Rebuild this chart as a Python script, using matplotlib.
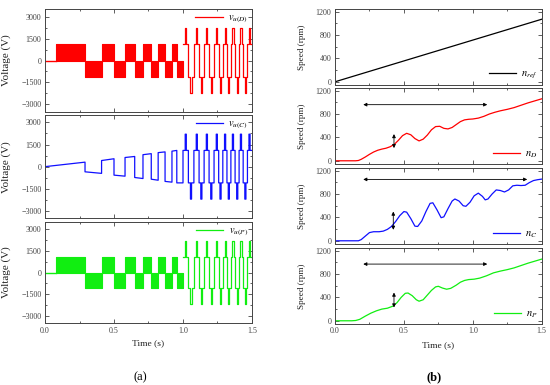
import numpy as np
import matplotlib
matplotlib.use("Agg")
import matplotlib.pyplot as plt
from matplotlib.ticker import MultipleLocator

plt.rcParams['font.family'] = ['Liberation Serif', 'DejaVu Serif']
plt.rcParams['mathtext.fontset'] = 'stix'

# ---------------- data: voltages (left) ----------------
# PWM blocks (rapid switching between 0 and +/-1100 V) for v_u(D) and v_u(P)
block_edges = [0.08, 0.29, 0.41, 0.50, 0.58, 0.65, 0.71, 0.77, 0.82, 0.87, 0.92, 0.955, 1.00]
block_signs = [1, -1, 1, -1, 1, -1, 1, -1, 1, -1, 1, -1]
level1 = 1100
level2 = 2200

# v_u(C): square wave with ramping amplitude before 1.0 s
c_edges = [0.0, 0.29, 0.41, 0.50, 0.58, 0.65, 0.71, 0.77, 0.82, 0.87, 0.92, 0.955, 1.00]
c_start = [0, -350, 415, -575, 620, -735, 810, -850, 950, -1000, 1050, -1100]
c_end = [305, -455, 535, -645, 690, -805, 880, -920, 1000, -1050, 1100, -1100]

# multilevel region after 1.0 s: spike centres and signs
spike_t = [1.02, 1.058, 1.10, 1.133, 1.173, 1.205, 1.245, 1.272, 1.305, 1.332, 1.362, 1.393, 1.42, 1.452, 1.482]
spike_s = [1, -1, 1, -1, 1, -1, 1, -1, 1, -1, 1, -1, 1, -1, 1]
spike_halfwidth = 0.004

# ---------------- data: speeds (right) ----------------
ref_t = [0.0, 1.5]
ref_n = [0, 1070]

nD_t = [0, 0.15, 0.17, 0.19, 0.22, 0.25, 0.28, 0.31, 0.34, 0.37, 0.40, 0.43, 0.46, 0.49, 0.52, 0.55, 0.58,
        0.61, 0.64, 0.67, 0.70, 0.73, 0.76, 0.79, 0.82, 0.85, 0.88, 0.91, 0.94, 0.97, 1.00, 1.04, 1.08,
        1.12, 1.16, 1.20, 1.25, 1.30, 1.35, 1.40, 1.45, 1.50]
nD_n = [0, 0, 5, 25, 65, 110, 150, 180, 200, 215, 240, 280, 350, 430, 470, 445, 380,
        340, 370, 440, 530, 585, 590, 555, 545, 570, 620, 670, 700, 710, 715, 730, 760,
        800, 830, 855, 880, 910, 950, 990, 1025, 1060]

nC_t = [0, 0.17, 0.19, 0.22, 0.25, 0.28, 0.32, 0.35, 0.38, 0.41, 0.44, 0.47, 0.50, 0.52, 0.55, 0.58, 0.60,
        0.63, 0.66, 0.69, 0.71, 0.74, 0.77, 0.79, 0.82, 0.85, 0.87, 0.90, 0.93, 0.95, 0.98, 1.01, 1.04,
        1.07, 1.09, 1.11, 1.14, 1.17, 1.20, 1.23, 1.26, 1.29, 1.32, 1.35, 1.38, 1.41, 1.44, 1.47, 1.50]
nC_n = [0, 0, 20, 80, 140, 155, 155, 165, 195, 245, 330, 430, 500, 490, 380, 250, 245,
        340, 500, 640, 650, 530, 395, 410, 550, 680, 715, 680, 600, 590, 660, 770, 815,
        760, 700, 715, 800, 870, 860, 835, 870, 940, 950, 945, 950, 995, 1030, 1045, 1055]

nP_t = [0, 0.12, 0.15, 0.18, 0.22, 0.26, 0.30, 0.34, 0.38, 0.42, 0.45, 0.48, 0.51, 0.53, 0.56, 0.59, 0.61,
        0.64, 0.67, 0.70, 0.73, 0.75, 0.78, 0.81, 0.84, 0.88, 0.91, 0.94, 0.97, 1.01, 1.05, 1.10, 1.15,
        1.20, 1.25, 1.30, 1.35, 1.40, 1.45, 1.50]
nP_n = [0, 0, 5, 25, 80, 130, 170, 200, 215, 250, 310, 400, 470, 475, 430, 360, 335,
        360, 440, 520, 580, 590, 560, 540, 555, 610, 660, 690, 705, 712, 730, 770, 820,
        850, 875, 905, 945, 985, 1020, 1055]

# arrows (horizontal span, vertical span)
h_arrow = {'D': (0.205, 1.105, 960), 'C': (0.205, 1.395, 1050), 'P': (0.205, 1.105, 970)}
v_arrow = {'D': (0.428, 217, 457), 'C': (0.423, 188, 500), 'P': (0.428, 227, 483)}

RED = '#ff0000'
BLUE = '#1010ff'
GREEN = '#11ee11'
EDGE = '#444444'


def multilevel_path(t0):
    xs, ys = [], []
    bounds = [t0] + [(a + b) / 2 for a, b in zip(spike_t[:-1], spike_t[1:])] + [1.5]
    for i, (c, s) in enumerate(zip(spike_t, spike_s)):
        b0, b1 = bounds[i], bounds[i + 1]
        xs += [b0, c - spike_halfwidth, c - spike_halfwidth, c + spike_halfwidth, c + spike_halfwidth, b1]
        ys += [s * level1, s * level1, s * level2, s * level2, s * level1, s * level1]
    return xs, ys


def style_axes(ax, ylim, ymaj, ymin):
    ax.set_xlim(0, 1.5)
    ax.set_ylim(*ylim)
    ax.xaxis.set_major_locator(MultipleLocator(0.5))
    ax.xaxis.set_minor_locator(MultipleLocator(0.25))
    ax.yaxis.set_major_locator(MultipleLocator(ymaj))
    ax.yaxis.set_minor_locator(MultipleLocator(ymin))
    ax.tick_params(which='both', direction='in', top=True, right=True, labelsize=5.8,
                   colors=EDGE, width=0.6, pad=2.5)
    ax.tick_params(which='major', length=3)
    ax.tick_params(which='minor', length=1.5)
    for sp in ax.spines.values():
        sp.set_color(EDGE)
        sp.set_linewidth(0.7)


fig = plt.figure(figsize=(5.5, 3.85), dpi=100)

# ---------- left column ----------
L = 45 / 550
W = 207 / 550
left_boxes = [(9.3, 111.7), (115, 218.3), (221.7, 323.3)]
left_axes = []
for top, bot in left_boxes:
    ax = fig.add_axes([L, 1 - bot / 385, W, (bot - top) / 385])
    left_axes.append(ax)

for ax, col, lab, kind in zip(left_axes, [RED, BLUE, GREEN],
                              [r'$v_{u(D)}$', r'$v_{u(C)}$', r'$v_{u(P)}$'], ['blk', 'ramp', 'blk']):
    if kind == 'blk':
        ax.plot([0, block_edges[0]], [0, 0], color=col, lw=1.0)
        for a, b, s in zip(block_edges[:-1], block_edges[1:], block_signs):
            ax.fill_between([a, b], [0, 0], [s * level1, s * level1], color=col, lw=0.8, edgecolor=col)
        xs, ys = multilevel_path(1.0)
        line, = ax.plot(xs, ys, color=col, lw=0.9)
    else:
        xs, ys = [], []
        for a, b, v0, v1 in zip(c_edges[:-1], c_edges[1:], c_start, c_end):
            xs += [a, b]
            ys += [v0, v1]
        mx, my = multilevel_path(1.0)
        xs += mx
        ys += my
        line, = ax.plot(xs, ys, color=col, lw=0.9)
    ax.legend([line], [lab], loc='upper right', frameon=False, fontsize=7.5,
              handlelength=2.6, handletextpad=0.5, borderaxespad=0.1, borderpad=0.3)
    style_axes(ax, (-3500, 3500), 1500, 750)
    ax.set_ylabel('Voltage (V)', fontsize=8, color='#222222')
    ax.yaxis.set_label_coords(-0.165, 0.5)

for ax in left_axes[:-1]:
    ax.tick_params(labelbottom=False)
left_axes[-1].set_xlabel('Time (s)', fontsize=6.8, color='#222222', labelpad=3)
left_axes[-1].xaxis.set_major_formatter(matplotlib.ticker.FormatStrFormatter('%.1f'))

# ---------- right column ----------
RL = 335 / 550
RW = 206.7 / 550
right_boxes = [(9.3, 85), (88.3, 164), (168.3, 244), (248.3, 324)]
right_axes = []
for top, bot in right_boxes:
    ax = fig.add_axes([RL, 1 - bot / 385, RW, (bot - top) / 385])
    right_axes.append(ax)

series = [(ref_t, ref_n, 'black', r'$n_{ref}$', None),
          (nD_t, nD_n, RED, r'$n_D$', 'D'),
          (nC_t, nC_n, BLUE, r'$n_C$', 'C'),
          (nP_t, nP_n, GREEN, r'$n_P$', 'P')]
for ax, (t, n, col, lab, key) in zip(right_axes, series):
    line, = ax.plot(t, n, color=col, lw=0.9)
    ax.legend([line], [lab], loc='lower right', frameon=False, fontsize=7.5,
              handlelength=2.6, handletextpad=0.5, borderaxespad=0.1, borderpad=0.3)
    style_axes(ax, (-55, 1240), 400, 200)
    ax.set_ylabel('Speed (rpm)', fontsize=6.6, color='#222222')
    ax.yaxis.set_label_coords(-0.14, 0.5)
    if key is not None:
        x0, x1, yh = h_arrow[key]
        ax.annotate('', xy=(x1, yh), xytext=(x0, yh),
                    arrowprops=dict(arrowstyle='<|-|>', color='black', lw=0.6,
                                    mutation_scale=5, shrinkA=0, shrinkB=0))
        xv, y0, y1 = v_arrow[key]
        ax.annotate('', xy=(xv, y1), xytext=(xv, y0),
                    arrowprops=dict(arrowstyle='<|-|>', color='black', lw=0.6,
                                    mutation_scale=5, shrinkA=0, shrinkB=0))

for ax in right_axes[:-1]:
    ax.tick_params(labelbottom=False)
right_axes[-1].set_xlabel('Time (s)', fontsize=6.8, color='#222222', labelpad=4)
right_axes[-1].xaxis.set_major_formatter(matplotlib.ticker.FormatStrFormatter('%.1f'))

fig.text(140 / 550, 1 - 377 / 385, '(a)', ha='center', va='center', fontsize=9)
fig.text(434 / 550, 1 - 377 / 385, '(b)', ha='center', va='center', fontsize=9, fontweight='bold')

fig.savefig('out.png', dpi=100)
